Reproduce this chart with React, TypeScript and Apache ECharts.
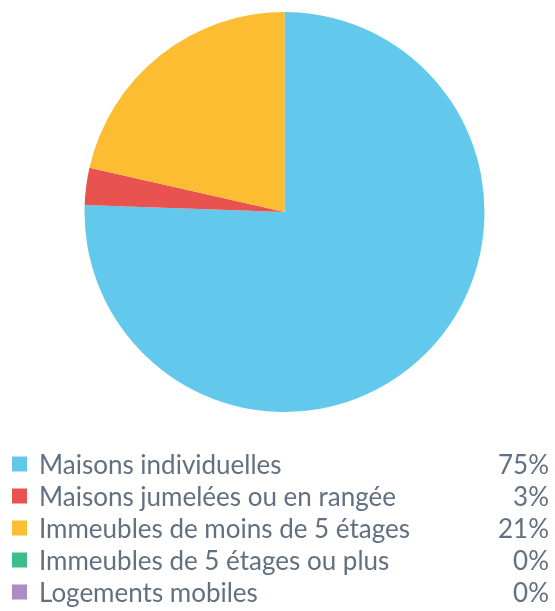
import React, { useEffect, useRef } from "react";
import * as echarts from "echarts";

const categories = [
  "Maisons individuelles",
  "Maisons jumelées ou en rangée",
  "Immeubles de moins de 5 étages",
  "Immeubles de 5 étages ou plus",
  "Logements mobiles",
];
const values = [75.4, 3.0, 21.4, 0, 0];
const colors = ["#62c9ec", "#e8524f", "#fdbd32", "#3cbd8a", "#a98dc4"];

export default function App() {
  const ref = useRef<HTMLDivElement>(null);
  useEffect(() => {
    if (!ref.current) return;
    const chart = echarts.init(ref.current, undefined, { renderer: "svg" });
    const pctOf = (name: string) => {
      const i = categories.indexOf(name);
      return Math.round(values[i]) + "%";
    };
    const txt = {
      fontSize: 26,
      lineHeight: 26,
      fontFamily: "Lato",
      color: "#627080",
    };
    chart.setOption({
      animation: false,
      color: colors,
      legend: {
        orient: "vertical",
        left: 12,
        top: 451,
        padding: 0,
        itemWidth: 15,
        itemHeight: 15,
        itemGap: 6,
        itemTextGap: 13,
        icon: "rect",
        selectedMode: false,
        itemStyle: { borderWidth: 0 },
        data: categories,
        formatter: (name: string) => `{n|${name}}{p|${pctOf(name)}}`,
        textStyle: {
          rich: {
            n: { ...txt, width: 430, padding: [0, 0, 0, 7] },
            p: { ...txt, width: 80, align: "right" },
          },
        },
      },
      series: [
        {
          type: "pie",
          center: [284.5, 212],
          radius: [0, 200],
          startAngle: 90,
          clockwise: true,
          minAngle: 0,
          avoidLabelOverlap: false,
          label: { show: false },
          labelLine: { show: false },
          emphasis: { disabled: true },
          itemStyle: { borderWidth: 0 },
          data: categories.map((n, i) => ({
            name: n,
            value: values[i],
            itemStyle: { color: colors[i] },
          })),
        },
      ],
    });
    return () => chart.dispose();
  }, []);
  return (
    <div
      ref={ref}
      style={{ position: "fixed", left: 0, top: 0, width: 555, height: 611 }}
    />
  );
}
